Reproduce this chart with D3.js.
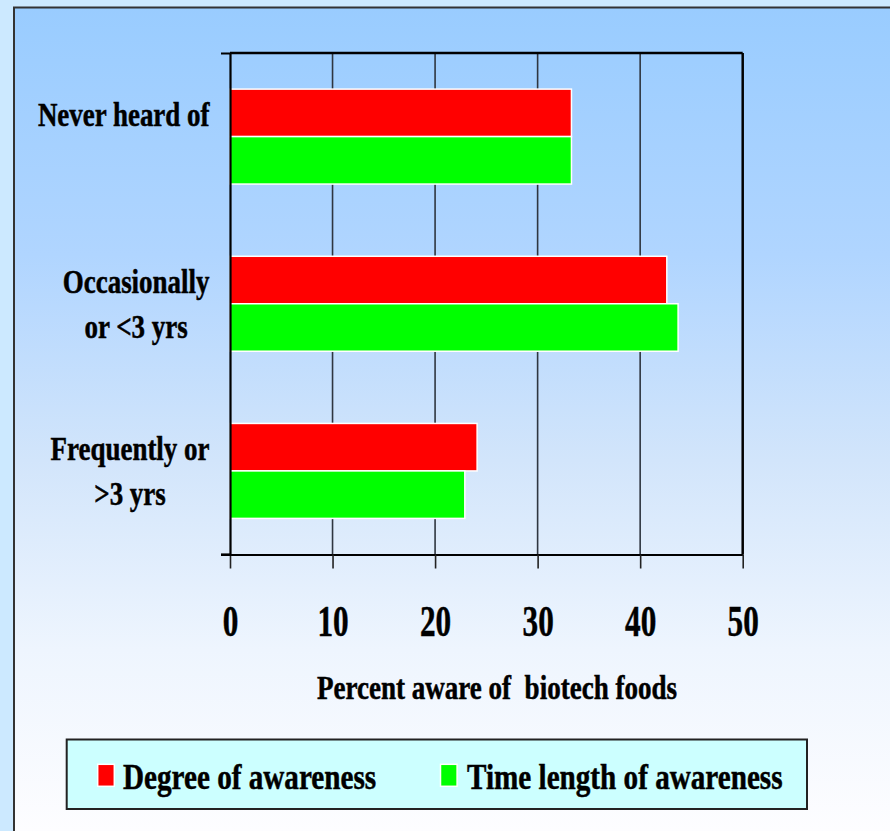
<!DOCTYPE html>
<html>
<head>
<meta charset="utf-8">
<script src="https://cdn.jsdelivr.net/npm/d3@7"></script>
<style>
  html, body { margin: 0; padding: 0; background: #cce9ff; }
  svg { display: block; }
  text { font-family: "Liberation Serif", "Times New Roman", serif; font-weight: bold; fill: #000; stroke: #000; stroke-width: 0.5px; }
</style>
</head>
<body>
<svg id="chart" width="890" height="831"></svg>
<script>
// Survey answers (category labels, one entry per line)
const categories = ["Never heard of", "Occasionally or <3 yrs", "Frequently or >3 yrs"];
const categoryLines = [["Never heard of"], ["Occasionally", "or <3 yrs"], ["Frequently or", ">3 yrs"]];
const seriesNames = ["Degree of awareness", "Time length of awareness"];
const degreeValues = [33.3, 42.6, 24.1];
const timeLengthValues = [33.3, 43.7, 22.9];
const tickValues = [0, 10, 20, 30, 40, 50];
const axisTitle = "Percent aware of  biotech foods";
const seriesColors = ["#ff0000", "#00ff00"];

const seriesValues = [degreeValues, timeLengthValues];
const rows = categories.map((c, i) => ({
  category: c,
  lines: categoryLines[i],
  values: seriesNames.map((s, j) => ({ series: s, value: seriesValues[j][i], color: seriesColors[j] }))
}));

const svg = d3.select("#chart");
const W = 890, H = 831;

// Background and framed panel with a vertical fade
const defs = svg.append("defs");
const grad = defs.append("linearGradient")
  .attr("id", "panelFade")
  .attr("gradientUnits", "userSpaceOnUse")
  .attr("x1", 0).attr("y1", 7).attr("x2", 0).attr("y2", 831);
[[0, "#99ccff"], [0.3, "#b0d5ff"], [0.55, "#d2e5fb"], [0.78, "#eef5fe"], [1, "#fdfdff"]]
  .forEach(([o, c]) => grad.append("stop").attr("offset", o).attr("stop-color", c));

svg.append("rect").attr("width", W).attr("height", H).attr("fill", "#cce9ff");
svg.append("rect")
  .attr("x", 14).attr("y", 7.5).attr("width", 920).attr("height", 900)
  .attr("fill", "url(#panelFade)")
  .attr("stroke", "#333").attr("stroke-width", 2);

// Scales
const plotTop = 53, plotBottom = 554.5, plotLeft = 230, plotRight = 742.7;
const x = d3.scaleLinear().domain([0, 50]).range([plotLeft, plotRight]);
const y0 = d3.scaleBand().domain(categories).range([plotTop, plotBottom])
  .paddingInner(0.432).paddingOuter(0.216);
const y1 = d3.scaleBand().domain(seriesNames).range([0, y0.bandwidth()]);

// Vertical grid lines
svg.append("g").selectAll("line")
  .data(tickValues.filter(t => t > 0 && t < 50))
  .join("line")
  .attr("x1", d => x(d)).attr("x2", d => x(d))
  .attr("y1", plotTop).attr("y2", plotBottom)
  .attr("stroke", "#2f3640").attr("stroke-width", 1.6);

// Top and right border of the plot
svg.append("line")
  .attr("x1", plotLeft).attr("x2", plotRight).attr("y1", plotTop).attr("y2", plotTop)
  .attr("stroke", "#000").attr("stroke-width", 2.5);
svg.append("line")
  .attr("x1", plotRight).attr("x2", plotRight).attr("y1", plotTop).attr("y2", plotBottom)
  .attr("stroke", "#000").attr("stroke-width", 2.5);

// Bars
const groups = svg.append("g").selectAll("g")
  .data(rows).join("g")
  .attr("transform", d => `translate(0,${y0(d.category)})`);
groups.selectAll("rect")
  .data(d => d.values).join("rect")
  .attr("x", x(0))
  .attr("y", d => y1(d.series))
  .attr("width", d => x(d.value) - x(0))
  .attr("height", y1.bandwidth())
  .attr("fill", d => d.color)
  .attr("stroke", "#ffffff").attr("stroke-width", 1.5);

// Bottom axis: ticks below the line, condensed bold labels
const xAxis = svg.append("g")
  .attr("transform", `translate(0,${plotBottom})`)
  .call(d3.axisBottom(x).tickValues(tickValues).tickSizeInner(14).tickSizeOuter(0));
xAxis.select(".domain").attr("stroke", "#000").attr("stroke-width", 2.2);
xAxis.selectAll(".tick line").attr("stroke", "#222").attr("stroke-width", 1.6);
xAxis.selectAll(".tick text")
  .attr("y", null).attr("dy", null)
  .attr("transform", "translate(0,81) scale(0.71,1)")
  .attr("font-size", 44)
  .attr("font-family", "'Liberation Serif', 'Times New Roman', serif")
  .attr("font-weight", "bold")
  .attr("fill", "#000");
// extend the baseline left to the outer tick
svg.append("line")
  .attr("x1", plotLeft - 9).attr("x2", plotLeft).attr("y1", plotBottom).attr("y2", plotBottom)
  .attr("stroke", "#000").attr("stroke-width", 2.2);

// Left axis with outer ticks only
const yAxis = svg.append("g")
  .attr("transform", `translate(${plotLeft},0)`)
  .call(d3.axisLeft(y0).tickValues([]).tickSizeOuter(9));
yAxis.select(".domain").attr("stroke", "#000").attr("stroke-width", 2.2).attr("fill", "none");

// Category labels: lines centred on each other, block right-aligned
const catScale = 0.8, catSize = 33.7, labelRight = 209.5;
rows.forEach(r => {
  const g = svg.append("g");
  const bandStart = y0(r.category);
  const texts = r.lines.map((ln, i) =>
    g.append("text")
      .attr("font-size", catSize)
      .attr("text-anchor", "middle")
      .attr("data-base", bandStart + 36.5 + i * 45)
      .text(ln));
  const maxW = d3.max(texts, t => t.node().getComputedTextLength()) * catScale;
  const cx = labelRight - maxW / 2;
  texts.forEach(t => t.attr("transform", `translate(${cx},${+t.attr("data-base")}) scale(${catScale},1)`));
});

// Axis title
svg.append("text")
  .attr("transform", "translate(497,699) scale(0.82,1)")
  .attr("text-anchor", "middle")
  .attr("font-size", 33)
  .style("white-space", "pre")
  .text(axisTitle);

// Legend
const legend = svg.append("g");
legend.append("rect")
  .attr("x", 66.7).attr("y", 739.5).attr("width", 740.3).attr("height", 69.5)
  .attr("fill", "#ccffff").attr("stroke", "#222").attr("stroke-width", 2);
const legendItems = [
  { name: seriesNames[0], color: seriesColors[0], sx: 97.7, tx: 123 },
  { name: seriesNames[1], color: seriesColors[1], sx: 440.5, tx: 467 }
];
legendItems.forEach(it => {
  legend.append("rect")
    .attr("x", it.sx).attr("y", 764.3).attr("width", 16.6).attr("height", 22)
    .attr("fill", it.color).attr("stroke", "#fff").attr("stroke-width", 1.5);
  legend.append("text")
    .attr("transform", `translate(${it.tx},788.5) scale(0.81,1)`)
    .attr("font-size", 36)
    .text(it.name);
});
</script>
</body>
</html>
